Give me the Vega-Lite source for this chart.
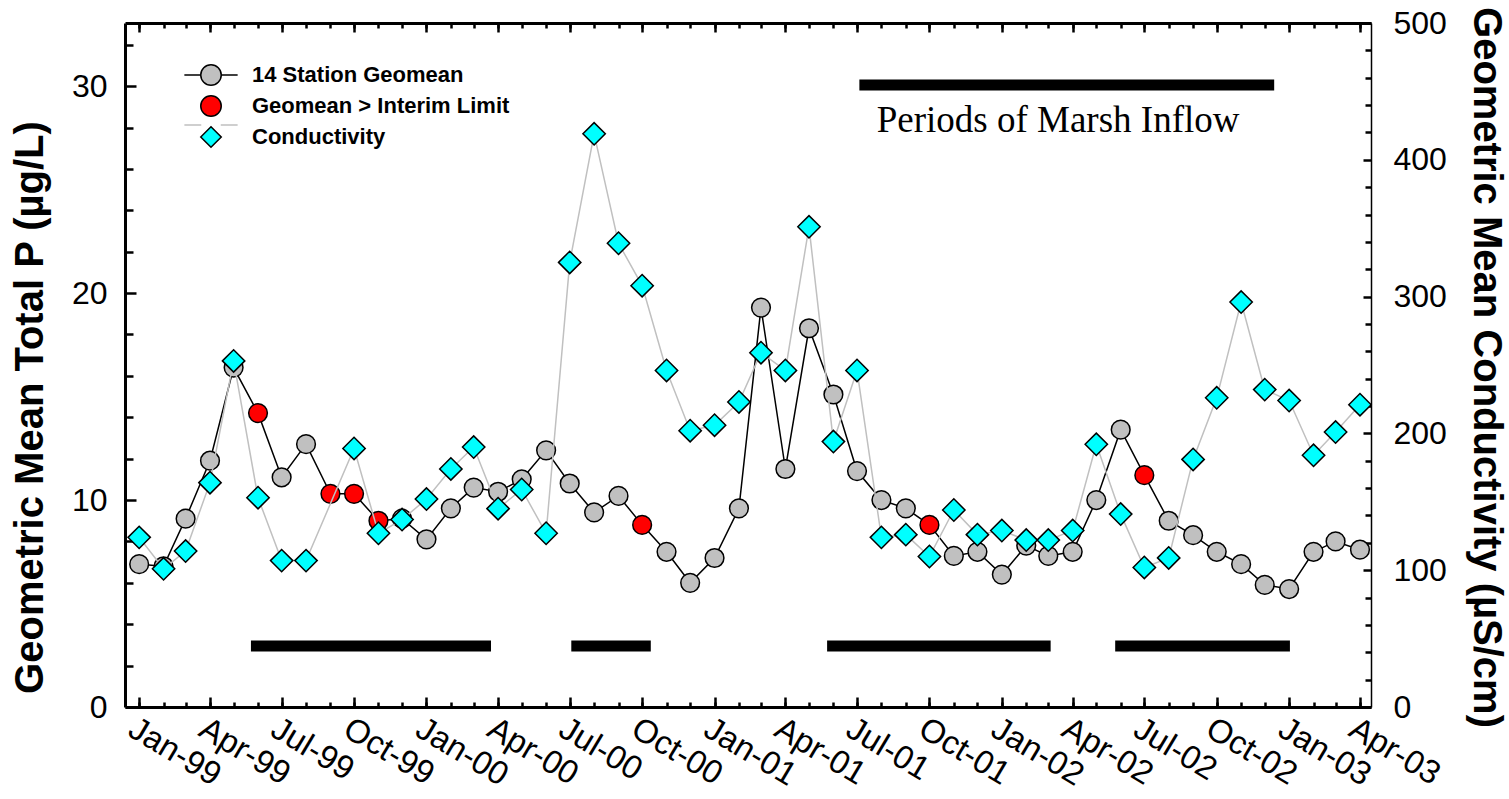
{
  "$schema": "https://vega.github.io/schema/vega-lite/v6.json",
  "width": 1246,
  "height": 684,
  "autosize": {"type": "none"},
  "padding": {"left": 125, "top": 23, "right": 138, "bottom": 92},
  "background": "white",
  "config": {
    "view": {"stroke": null},
    "axis": {"grid": false, "labelFont": "Liberation Sans", "titleFont": "Liberation Sans", "labelColor": "black", "titleColor": "black", "domainColor": "black", "tickColor": "black", "labelFlush": false, "labelOverlap": false}
  },
  "datasets": {
    "main": [
      {"month": "1999-01-01T00:00:00", "tp": 6.9, "cond": 124, "status": "14 Station Geomean"},
      {"month": "1999-02-01T00:00:00", "tp": 6.8, "cond": 101, "status": "14 Station Geomean"},
      {"month": "1999-03-01T00:00:00", "tp": 9.1, "cond": 114, "status": "14 Station Geomean"},
      {"month": "1999-04-01T00:00:00", "tp": 11.9, "cond": 164, "status": "14 Station Geomean"},
      {"month": "1999-05-01T00:00:00", "tp": 16.4, "cond": 253, "status": "14 Station Geomean"},
      {"month": "1999-06-01T00:00:00", "tp": 14.2, "cond": 153, "status": "Geomean > Interim Limit"},
      {"month": "1999-07-01T00:00:00", "tp": 11.1, "cond": 107, "status": "14 Station Geomean"},
      {"month": "1999-08-01T00:00:00", "tp": 12.7, "cond": 107, "status": "14 Station Geomean"},
      {"month": "1999-09-01T00:00:00", "tp": 10.3, "cond": null, "status": "Geomean > Interim Limit"},
      {"month": "1999-10-01T00:00:00", "tp": 10.3, "cond": 189, "status": "Geomean > Interim Limit"},
      {"month": "1999-11-01T00:00:00", "tp": 9.0, "cond": 127, "status": "Geomean > Interim Limit"},
      {"month": "1999-12-01T00:00:00", "tp": 9.1, "cond": 137, "status": "14 Station Geomean"},
      {"month": "2000-01-01T00:00:00", "tp": 8.1, "cond": 152, "status": "14 Station Geomean"},
      {"month": "2000-02-01T00:00:00", "tp": 9.6, "cond": 174, "status": "14 Station Geomean"},
      {"month": "2000-03-01T00:00:00", "tp": 10.6, "cond": 190, "status": "14 Station Geomean"},
      {"month": "2000-04-01T00:00:00", "tp": 10.4, "cond": 145, "status": "14 Station Geomean"},
      {"month": "2000-05-01T00:00:00", "tp": 11.0, "cond": 159, "status": "14 Station Geomean"},
      {"month": "2000-06-01T00:00:00", "tp": 12.4, "cond": 127, "status": "14 Station Geomean"},
      {"month": "2000-07-01T00:00:00", "tp": 10.8, "cond": 325, "status": "14 Station Geomean"},
      {"month": "2000-08-01T00:00:00", "tp": 9.4, "cond": 419, "status": "14 Station Geomean"},
      {"month": "2000-09-01T00:00:00", "tp": 10.2, "cond": 339, "status": "14 Station Geomean"},
      {"month": "2000-10-01T00:00:00", "tp": 8.8, "cond": 308, "status": "Geomean > Interim Limit"},
      {"month": "2000-11-01T00:00:00", "tp": 7.5, "cond": 246, "status": "14 Station Geomean"},
      {"month": "2000-12-01T00:00:00", "tp": 6.0, "cond": 202, "status": "14 Station Geomean"},
      {"month": "2001-01-01T00:00:00", "tp": 7.2, "cond": 206, "status": "14 Station Geomean"},
      {"month": "2001-02-01T00:00:00", "tp": 9.6, "cond": 223, "status": "14 Station Geomean"},
      {"month": "2001-03-01T00:00:00", "tp": 19.3, "cond": 259, "status": "14 Station Geomean"},
      {"month": "2001-04-01T00:00:00", "tp": 11.5, "cond": 246, "status": "14 Station Geomean"},
      {"month": "2001-05-01T00:00:00", "tp": 18.3, "cond": 351, "status": "14 Station Geomean"},
      {"month": "2001-06-01T00:00:00", "tp": 15.1, "cond": 194, "status": "14 Station Geomean"},
      {"month": "2001-07-01T00:00:00", "tp": 11.4, "cond": 246, "status": "14 Station Geomean"},
      {"month": "2001-08-01T00:00:00", "tp": 10.0, "cond": 124, "status": "14 Station Geomean"},
      {"month": "2001-09-01T00:00:00", "tp": 9.6, "cond": 126, "status": "14 Station Geomean"},
      {"month": "2001-10-01T00:00:00", "tp": 8.8, "cond": 110, "status": "Geomean > Interim Limit"},
      {"month": "2001-11-01T00:00:00", "tp": 7.3, "cond": 144, "status": "14 Station Geomean"},
      {"month": "2001-12-01T00:00:00", "tp": 7.5, "cond": 126, "status": "14 Station Geomean"},
      {"month": "2002-01-01T00:00:00", "tp": 6.4, "cond": 129, "status": "14 Station Geomean"},
      {"month": "2002-02-01T00:00:00", "tp": 7.8, "cond": 122, "status": "14 Station Geomean"},
      {"month": "2002-03-01T00:00:00", "tp": 7.3, "cond": 122, "status": "14 Station Geomean"},
      {"month": "2002-04-01T00:00:00", "tp": 7.5, "cond": 129, "status": "14 Station Geomean"},
      {"month": "2002-05-01T00:00:00", "tp": 10.0, "cond": 192, "status": "14 Station Geomean"},
      {"month": "2002-06-01T00:00:00", "tp": 13.4, "cond": 141, "status": "14 Station Geomean"},
      {"month": "2002-07-01T00:00:00", "tp": 11.2, "cond": 102, "status": "Geomean > Interim Limit"},
      {"month": "2002-08-01T00:00:00", "tp": 9.0, "cond": 109, "status": "14 Station Geomean"},
      {"month": "2002-09-01T00:00:00", "tp": 8.3, "cond": 181, "status": "14 Station Geomean"},
      {"month": "2002-10-01T00:00:00", "tp": 7.5, "cond": 226, "status": "14 Station Geomean"},
      {"month": "2002-11-01T00:00:00", "tp": 6.9, "cond": 296, "status": "14 Station Geomean"},
      {"month": "2002-12-01T00:00:00", "tp": 5.9, "cond": 232, "status": "14 Station Geomean"},
      {"month": "2003-01-01T00:00:00", "tp": 5.7, "cond": 224, "status": "14 Station Geomean"},
      {"month": "2003-02-01T00:00:00", "tp": 7.5, "cond": 184, "status": "14 Station Geomean"},
      {"month": "2003-03-01T00:00:00", "tp": 8.0, "cond": 201, "status": "14 Station Geomean"},
      {"month": "2003-04-01T00:00:00", "tp": 7.6, "cond": 221, "status": "14 Station Geomean"}
    ],
    "bars": [
      {"start": "1999-05-23T00:00:00", "end": "2000-03-23T00:00:00", "y": 2.95},
      {"start": "2000-07-03T00:00:00", "end": "2000-10-12T00:00:00", "y": 2.95},
      {"start": "2001-05-24T00:00:00", "end": "2002-03-04T00:00:00", "y": 2.95},
      {"start": "2002-05-25T00:00:00", "end": "2003-01-02T00:00:00", "y": 2.95},
      {"start": "2001-07-04T00:00:00", "end": "2002-12-13T00:00:00", "y": 30.05}
    ],
    "notes": [
      {"date": "2001-07-26T00:00:00", "y": 27.78, "label": "Periods of Marsh Inflow"}
    ]
  },
  "layer": [
    {
      "data": {"name": "bars"},
      "mark": {"type": "rule", "strokeWidth": 11, "color": "black", "strokeCap": "butt"},
      "encoding": {
        "x": {"field": "start", "type": "temporal",
          "scale": {"domain": [{"year": 1998, "month": 12, "date": 14}, {"year": 2003, "month": 4, "date": 15}]},
          "axis": {"orient": "bottom", "tickCount": {"interval": "month", "step": 3}, "format": "%b-%y", "labelAngle": 31, "labelAlign": "left", "labelBaseline": "top", "labelFontSize": 33, "labelPadding": 15, "tickSize": -10, "tickWidth": 2.5, "domainWidth": 3, "title": null}},
        "x2": {"field": "end"},
        "y": {"field": "y", "type": "quantitative", "scale": {"domain": [0, 33.05], "nice": false},
          "axis": {"orient": "left", "values": [0, 10, 20, 30], "tickSize": -11, "tickWidth": 2.5, "domainWidth": 3, "labelFontSize": 32, "labelPadding": 29,
            "title": "Geometric Mean Total P (µg/L)", "titleFontSize": 40, "titleFontWeight": "bold", "titleX": -95, "titleY": 384, "titleAngle": 270, "titleBaseline": "middle", "titleAlign": "center"}}
      }
    },
    {
      "data": {"name": "notes"},
      "mark": {"type": "text", "font": "Liberation Serif", "fontSize": 37, "align": "left", "baseline": "alphabetic", "color": "black"},
      "encoding": {
        "x": {"field": "date", "type": "temporal",
          "axis": {"orient": "bottom", "tickCount": {"interval": "month", "step": 1}, "labels": false, "domain": false, "tickSize": -5, "tickWidth": 2.5, "title": null}},
        "y": {"field": "y", "type": "quantitative", "scale": {"domain": [0, 33.05], "nice": false},
          "axis": {"orient": "left", "values": [2, 4, 6, 8, 12, 14, 16, 18, 22, 24, 26, 28, 32], "labels": false, "domain": false, "tickSize": -8, "tickWidth": 2.5, "title": null}},
        "text": {"field": "label"}
      }
    },
    {
      "data": {"name": "main"},
      "mark": {"type": "line", "strokeWidth": 1.5},
      "encoding": {
        "x": {"field": "month", "type": "temporal",
          "axis": {"orient": "top", "tickCount": {"interval": "month", "step": 3}, "labels": false, "tickSize": -9, "tickWidth": 2.5, "domainWidth": 3, "title": null}},
        "y": {"field": "tp", "type": "quantitative", "scale": {"domain": [0, 33.05], "nice": false}, "axis": null},
        "stroke": {"datum": "14 Station Geomean ", "type": "nominal",
          "scale": {"domain": ["14 Station Geomean ", "Geomean > Interim Limit ", "Conductivity "], "range": ["#000000", "transparent", "#c0c0c0"]},
          "legend": {"orient": "none", "legendX": 75, "legendY": 41, "title": null, "padding": 0, "symbolSize": 420, "symbolType": "M-2.6,0H-0.95M0.95,0H2.6", "symbolStrokeWidth": 1.5, "labelFont": "Liberation Sans", "labelFontSize": 22, "labelFontWeight": "bold", "labelExpr": "''", "labelLimit": 500, "labelOffset": 30, "rowPadding": 3,
            "encode": {"symbols": {"update": {"fill": {"value": "transparent"}, "strokeWidth": {"value": 1.5}, "opacity": {"value": 1}}}}}}
      }
    },
    {
      "data": {"name": "main"},
      "mark": {"type": "point", "filled": true, "stroke": "black", "strokeWidth": 1.5, "size": 350, "opacity": 1},
      "encoding": {
        "x": {"field": "month", "type": "temporal",
          "axis": {"orient": "top", "tickCount": {"interval": "month", "step": 1}, "labels": false, "domain": false, "tickSize": -5, "tickWidth": 2.5, "title": null}},
        "y": {"field": "tp", "type": "quantitative", "scale": {"domain": [0, 33.05], "nice": false}, "axis": null},
        "fill": {"field": "status", "type": "nominal",
          "scale": {"domain": ["14 Station Geomean", "Geomean > Interim Limit", "Conductivity"], "range": ["#c0c0c0", "#ff0000", "#00ffff"]},
          "legend": {"orient": "none", "legendX": 75, "legendY": 41, "title": null, "padding": 0, "symbolSize": 420, "symbolStrokeWidth": 1.5, "labelFont": "Liberation Sans", "labelFontSize": 22, "labelFontWeight": "bold", "labelColor": "black", "labelLimit": 500, "labelOffset": 30, "rowPadding": 3,
            "encode": {"symbols": {"update": {"stroke": {"value": "black"}, "strokeWidth": {"value": 1.5}, "opacity": {"value": 1}}}}}},
        "shape": {"field": "status", "type": "nominal",
          "scale": {"domain": ["14 Station Geomean", "Geomean > Interim Limit", "Conductivity"], "range": ["circle", "circle", "diamond"]},
          "legend": {"orient": "none", "legendX": 75, "legendY": 41, "title": null, "padding": 0, "symbolSize": 420, "symbolStrokeWidth": 1.5, "labelFont": "Liberation Sans", "labelFontSize": 22, "labelFontWeight": "bold", "labelColor": "black", "labelLimit": 500, "labelOffset": 30, "rowPadding": 3,
            "encode": {"symbols": {"update": {"stroke": {"value": "black"}, "strokeWidth": {"value": 1.5}, "opacity": {"value": 1}}}}}}
      }
    },
    {
      "data": {"name": "main"},
      "transform": [{"filter": "datum.cond != null"}],
      "mark": {"type": "line", "strokeWidth": 1.5},
      "encoding": {
        "x": {"field": "month", "type": "temporal", "axis": null},
        "y": {"field": "cond", "type": "quantitative", "scale": {"domain": [0, 500], "nice": false},
          "axis": {"orient": "right", "values": [0, 100, 200, 300, 400, 500], "tickSize": -8, "tickWidth": 2.5, "domainWidth": 1.5, "labelFontSize": 32, "labelPadding": 30,
            "title": "Geometric Mean Conductivity (µS/cm)", "titleFontSize": 40, "titleFontWeight": "bold", "titleAngle": 90, "titleX": 114, "titleY": 344, "titleBaseline": "middle", "titleAlign": "center"}},
        "stroke": {"datum": "Conductivity ", "type": "nominal",
          "scale": {"domain": ["14 Station Geomean ", "Geomean > Interim Limit ", "Conductivity "], "range": ["#000000", "transparent", "#c0c0c0"]},
          "legend": {"orient": "none", "legendX": 75, "legendY": 41, "title": null, "padding": 0, "symbolSize": 420, "symbolType": "M-2.6,0H-0.95M0.95,0H2.6", "symbolStrokeWidth": 1.5, "labelFont": "Liberation Sans", "labelFontSize": 22, "labelFontWeight": "bold", "labelExpr": "''", "labelLimit": 500, "labelOffset": 30, "rowPadding": 3,
            "encode": {"symbols": {"update": {"fill": {"value": "transparent"}, "strokeWidth": {"value": 1.5}, "opacity": {"value": 1}}}}}}
      }
    },
    {
      "data": {"name": "main"},
      "transform": [{"filter": "datum.cond != null"}],
      "mark": {"type": "point", "filled": true, "stroke": "black", "strokeWidth": 1.5, "size": 500, "opacity": 1},
      "encoding": {
        "x": {"field": "month", "type": "temporal", "axis": null},
        "y": {"field": "cond", "type": "quantitative", "scale": {"domain": [0, 500], "nice": false},
          "axis": {"orient": "right", "values": [20, 40, 60, 80, 120, 140, 160, 180, 220, 240, 260, 280, 320, 340, 360, 380, 420, 440, 460, 480], "labels": false, "domain": false, "tickSize": -6, "tickWidth": 2.5, "title": null}},
        "fill": {"datum": "Conductivity", "type": "nominal",
          "scale": {"domain": ["14 Station Geomean", "Geomean > Interim Limit", "Conductivity"], "range": ["#c0c0c0", "#ff0000", "#00ffff"]},
          "legend": {"orient": "none", "legendX": 75, "legendY": 41, "title": null, "padding": 0, "symbolSize": 420, "symbolStrokeWidth": 1.5, "labelFont": "Liberation Sans", "labelFontSize": 22, "labelFontWeight": "bold", "labelColor": "black", "labelLimit": 500, "labelOffset": 30, "rowPadding": 3,
            "encode": {"symbols": {"update": {"stroke": {"value": "black"}, "strokeWidth": {"value": 1.5}, "opacity": {"value": 1}}}}}},
        "shape": {"datum": "Conductivity", "type": "nominal",
          "scale": {"domain": ["14 Station Geomean", "Geomean > Interim Limit", "Conductivity"], "range": ["circle", "circle", "diamond"]},
          "legend": {"orient": "none", "legendX": 75, "legendY": 41, "title": null, "padding": 0, "symbolSize": 420, "symbolStrokeWidth": 1.5, "labelFont": "Liberation Sans", "labelFontSize": 22, "labelFontWeight": "bold", "labelColor": "black", "labelLimit": 500, "labelOffset": 30, "rowPadding": 3,
            "encode": {"symbols": {"update": {"stroke": {"value": "black"}, "strokeWidth": {"value": 1.5}, "opacity": {"value": 1}}}}}}
      }
    }
  ],
  "resolve": {"scale": {"y": "independent"}, "axis": {"x": "independent", "y": "independent"}}
}
